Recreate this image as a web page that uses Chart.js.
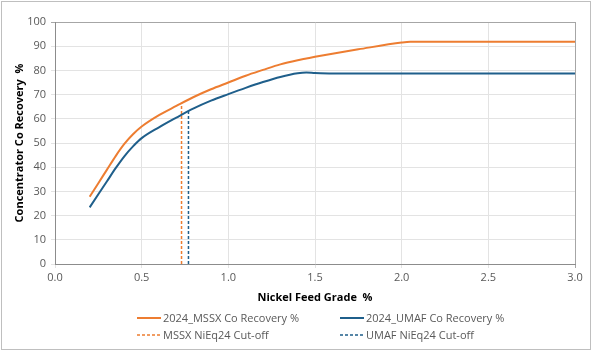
<!DOCTYPE html>
<html>
<head>
<meta charset="utf-8">
<script src="https://cdn.jsdelivr.net/npm/chart.js@4"></script>
<style>
  body { margin: 0; background: #fff; font-family: "Open Sans", sans-serif; }
  #wrap { position: relative; width: 594px; height: 351px; }
  #frame { position: absolute; left: 1px; top: 1px; width: 588px; height: 347px; border: 1px solid #bfbfbf; pointer-events: none; }
  .leg { position: absolute; font-size: 11px; color: #595959; display: flex; align-items: center; white-space: nowrap; }
  .leg svg { margin-right: 2px; }
</style>
</head>
<body>
<div id="wrap">
  <canvas id="myChart" width="594" height="351"></canvas>
  <div id="frame"></div>
  <div class="leg" style="left:137px;top:310px"><svg width="24" height="4"><line x1="0" y1="2" x2="24" y2="2" stroke="#ED7D31" stroke-width="2"/></svg>2024_MSSX Co Recovery %</div>
  <div class="leg" style="left:340px;top:310px"><svg width="24" height="4"><line x1="0" y1="2" x2="24" y2="2" stroke="#1F5F8B" stroke-width="2"/></svg>2024_UMAF Co Recovery %</div>
  <div class="leg" style="left:137px;top:327px"><svg width="24" height="4"><line x1="0" y1="2" x2="24" y2="2" stroke="#ED7D31" stroke-width="1.5" stroke-dasharray="3,2"/></svg>MSSX NiEq24 Cut-off</div>
  <div class="leg" style="left:340px;top:327px"><svg width="24" height="4"><line x1="0" y1="2" x2="24" y2="2" stroke="#1F5F8B" stroke-width="1.5" stroke-dasharray="3,2"/></svg>UMAF NiEq24 Cut-off</div>
</div>
<script>
// nickel feed grade (%)
const grade = [0.2, 0.25, 0.3, 0.35, 0.4, 0.45, 0.5, 0.6, 0.7, 0.8, 0.9, 1.0, 1.1, 1.2, 1.3, 1.4, 1.45, 1.5, 1.6, 1.75, 2.0, 2.05, 2.5, 3.0];
const mssxRecovery = [27.8, 33.4, 39, 44.6, 49.6, 53.6, 56.8, 61.5, 65.3, 69, 72.2, 75, 77.8, 80.2, 82.5, 84.2, 84.9, 85.6, 86.9, 88.7, 91.5, 91.8, 91.8, 91.8];
const umafRecovery = [23.4, 28.8, 34.2, 39.6, 44.5, 48.6, 52, 56.5, 60.5, 64.3, 67.5, 70.2, 72.8, 75.2, 77.3, 78.8, 79.1, 78.9, 78.7, 78.7, 78.7, 78.7, 78.7, 78.7];

const mssxCutX = [0.73, 0.73];
const mssxCutY = [0, 66.6];
const umafCutX = [0.77, 0.77];
const umafCutY = [0, 63.4];

const xTicks = [0, 0.5, 1, 1.5, 2, 2.5, 3];

function pts(xs, ys) {
    return xs.map((x, i) => ({ x: x, y: ys[i] }));
}

const orange = "#ED7D31";
const blue = "#1F5F8B";
const fontFam = "'Open Sans', sans-serif";

document.addEventListener("DOMContentLoaded", function () {
    const ctx = document.getElementById("myChart").getContext("2d");
    new Chart(ctx, {
        type: "line",
        data: {
            datasets: [
                {
                    label: "2024_MSSX Co Recovery %",
                    data: pts(grade, mssxRecovery),
                    borderColor: orange,
                    borderWidth: 2,
                    pointRadius: 0,
                    cubicInterpolationMode: "monotone",
                },
                {
                    label: "2024_UMAF Co Recovery %",
                    data: pts(grade, umafRecovery),
                    borderColor: blue,
                    borderWidth: 2,
                    pointRadius: 0,
                    cubicInterpolationMode: "monotone",
                },
                {
                    label: "MSSX NiEq24 Cut-off",
                    data: pts(mssxCutX, mssxCutY),
                    borderColor: orange,
                    borderWidth: 1.5,
                    borderDash: [3, 2],
                    pointRadius: 0,
                },
                {
                    label: "UMAF NiEq24 Cut-off",
                    data: pts(umafCutX, umafCutY),
                    borderColor: blue,
                    borderWidth: 1.5,
                    borderDash: [3, 2],
                    pointRadius: 0,
                },
            ],
        },
        options: {
            responsive: false,
            animation: false,
            layout: { padding: { left: 13, right: 19, top: 22, bottom: 47 } },
            plugins: {
                legend: { display: false },
                tooltip: { enabled: false },
            },
            scales: {
                x: {
                    type: "linear",
                    min: 0,
                    max: 3,
                    afterBuildTicks: (s) => { s.ticks = xTicks.map((v) => ({ value: v })); },
                    afterFit: (s) => { s.height = 40; },
                    ticks: {
                        padding: 3,
                        color: "#595959",
                        font: { family: fontFam, size: 11 },
                        callback: (v) => v.toFixed(1),
                    },
                    grid: {
                        color: (c) => (c.tick && c.tick.value === 3 ? "#a6a6a6" : "#e3e3e3"),
                        tickLength: 4,
                    },
                    border: { color: "#8c8c8c" },
                    title: {
                        display: true,
                        text: "Nickel Feed Grade  %",
                        color: "#000",
                        padding: 0,
                        font: { family: fontFam, size: 11, weight: "bold" },
                    },
                },
                y: {
                    min: 0,
                    max: 100,
                    afterFit: (s) => { s.width = 42; },
                    ticks: {
                        stepSize: 10,
                        padding: 5,
                        color: "#595959",
                        font: { family: fontFam, size: 11 },
                    },
                    grid: {
                        color: (c) => (c.tick && c.tick.value === 100 ? "#a6a6a6" : "#e3e3e3"),
                        tickLength: 4,
                    },
                    border: { color: "#8c8c8c" },
                    title: {
                        display: true,
                        text: "Concentrator Co Recovery  %",
                        color: "#000",
                        padding: 0,
                        font: { family: fontFam, size: 11, weight: "bold" },
                    },
                },
            },
        },
    });
});
</script>
</body>
</html>
